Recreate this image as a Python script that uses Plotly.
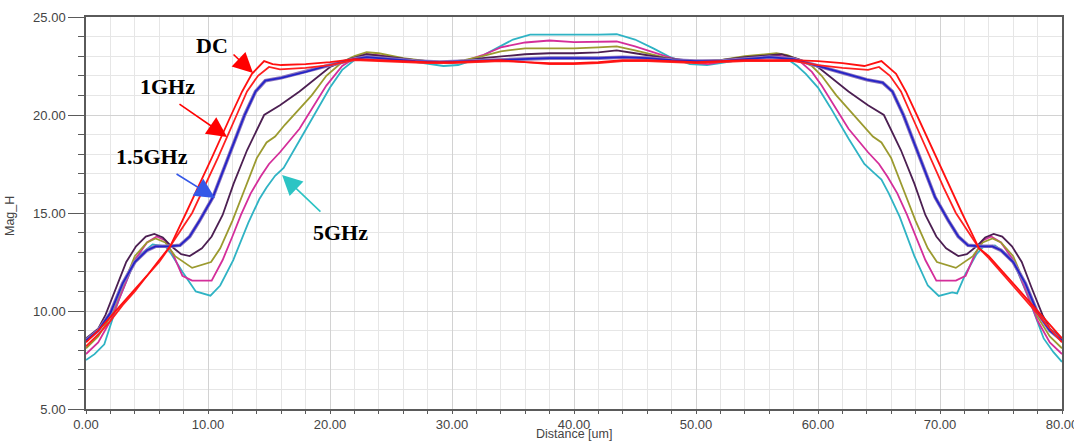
import plotly.graph_objects as go

# ---- H-field magnitude profiles across the conductor (Distance in um) ----

dc_x = [0, 1, 2, 3, 4, 5, 6, 6.9, 8.2, 9.2, 10.3, 11.9, 12.8, 13.6, 14.6, 15.3, 16, 18, 20, 22,
        24, 26, 28, 30, 32, 34, 36, 38, 40, 42, 44, 46, 48, 50, 52, 54, 56, 58, 60, 62,
        63.8, 65.2, 66.4, 67.2, 68.1, 69.7, 70.8, 71.8, 73.2, 74, 75, 76, 77, 78, 79, 80]
dc_y = [8.4, 9.0, 9.7, 10.4, 11.1, 11.8, 12.6, 13.3, 15.0, 16.3, 17.8, 20.0, 21.2, 22.1, 22.75, 22.6, 22.55, 22.6, 22.7, 22.85,
        22.8, 22.75, 22.7, 22.7, 22.75, 22.8, 22.7, 22.65, 22.65, 22.7, 22.8, 22.8, 22.75, 22.7, 22.75, 22.8, 22.8, 22.8, 22.75, 22.65,
        22.5, 22.75, 22.1, 21.2, 20.0, 17.8, 16.3, 15.0, 13.2, 12.8, 12.1, 11.4, 10.7, 10.0, 9.3, 8.6]

f1_x = [0, 1, 2, 3, 4, 5, 6, 6.9, 8.7, 9.7, 10.8, 12.35, 13.2, 14.1, 15.0, 15.9, 18, 20, 22, 24,
        26, 28, 30, 32, 34, 36, 38, 40, 42, 44, 46, 48, 50, 52, 54, 56, 58, 60, 62, 64.1,
        65.0, 65.9, 66.8, 67.65, 69.2, 70.3, 71.3, 73.2, 74, 75, 76, 77, 78, 79, 80]
f1_y = [8.2, 8.8, 9.5, 10.3, 11.0, 11.8, 12.5, 13.3, 15.0, 16.3, 17.8, 20.0, 21.2, 22.0, 22.45, 22.33, 22.4, 22.55, 22.8, 22.75,
        22.7, 22.65, 22.65, 22.7, 22.75, 22.7, 22.6, 22.6, 22.65, 22.75, 22.75, 22.7, 22.65, 22.7, 22.75, 22.75, 22.75, 22.55, 22.4, 22.3,
        22.45, 22.0, 21.2, 20.0, 17.8, 16.3, 15.0, 13.2, 12.7, 12.0, 11.25, 10.55, 9.85, 9.1, 8.4]

f15_x = [0, 1, 2, 3, 4, 5, 5.7, 6.8, 7.7, 8.5, 9.3, 10.4, 11.7, 13.0, 13.9, 14.7, 16, 18, 19.7, 22,
         23, 25, 27, 29, 31, 33, 35, 38, 40, 42, 44, 46, 48, 50, 52, 54, 56, 58, 60, 62,
         64, 65.3, 66.1, 67.0, 68.3, 69.6, 70.7, 71.5, 72.3, 73.3, 74.3, 75, 76, 77, 78, 79, 80]
f15_y = [8.5, 9.0, 9.9, 11.4, 12.5, 13.1, 13.3, 13.3, 13.35, 13.8, 14.6, 15.8, 17.9, 20.0, 21.2, 21.75, 21.9, 22.2, 22.5, 22.85,
         22.95, 22.85, 22.75, 22.7, 22.75, 22.8, 22.85, 22.9, 22.9, 22.9, 22.95, 22.9, 22.8, 22.75, 22.75, 22.85, 22.95, 22.85, 22.5, 22.15,
         21.8, 21.65, 21.2, 20.0, 17.9, 15.8, 14.6, 13.8, 13.35, 13.3, 13.3, 13.1, 12.5, 11.4, 9.9, 9.0, 8.5]

f2_x = [0, 1, 1.6, 2.5, 3.3, 4.1, 4.9, 5.6, 6.3, 7.0, 7.8, 8.5, 9.5, 10.3, 11.2, 12.1, 13.2, 14.6, 15.9, 17.5,
        20, 21.6, 23, 25, 27, 29, 31, 32.5, 34, 36, 38, 40, 42, 43.5, 45, 47.5, 50, 52, 54, 56,
        57, 58.4, 60, 62.5, 64.1, 65.4, 66.8, 67.9, 68.8, 69.7, 70.5, 71.5, 72.2, 73.0, 73.7, 74.4, 75.1, 75.9, 76.7, 77.5,
        78.4, 79, 80]
f2_y = [8.6, 9.1, 9.8, 11.2, 12.5, 13.3, 13.8, 13.93, 13.75, 13.3, 12.9, 12.8, 13.2, 13.8, 14.9, 16.5, 18.2, 20.0, 20.5, 21.2,
        22.45, 22.85, 23.1, 22.95, 22.8, 22.7, 22.75, 22.9, 23.0, 23.1, 23.15, 23.15, 23.2, 23.3, 23.15, 22.9, 22.75, 22.8, 22.95, 23.05,
        23.1, 22.85, 22.45, 21.2, 20.5, 20.0, 18.2, 16.5, 14.9, 13.8, 13.2, 12.8, 12.9, 13.3, 13.75, 13.93, 13.8, 13.3, 12.5, 11.2,
        9.8, 9.1, 8.6]

f3_x = [0, 1, 2, 3, 4, 5, 5.7, 6.5, 7.3, 8.7, 10.25, 11.0, 12.0, 13.0, 14.0, 14.8, 15.5, 16.3, 17.5, 18.5,
        19.7, 21, 22, 23, 24, 26, 28, 29.5, 31, 32.5, 34, 36, 38, 40, 42, 43.5, 45, 47, 48, 50,
        52, 54, 56.6, 57.5, 58.5, 59.5, 60.3, 61.5, 62.5, 63.7, 64.5, 65.2, 66.0, 67.0, 68.0, 69.0, 69.75, 71.3, 72.7, 73.5,
        74.3, 75, 76, 77, 78, 79, 80]
f3_y = [8.1, 8.7, 9.7, 11.3, 12.8, 13.5, 13.7, 13.5, 12.8, 12.2, 12.5, 13.2, 14.6, 16.2, 17.8, 18.6, 18.9, 19.5, 20.3, 21.0,
        22.0, 22.7, 23.0, 23.2, 23.15, 22.9, 22.75, 22.7, 22.8, 23.0, 23.25, 23.4, 23.4, 23.4, 23.45, 23.5, 23.3, 23.0, 22.85, 22.7,
        22.8, 23.0, 23.15, 23.05, 22.8, 22.5, 22.0, 21.0, 20.3, 19.5, 18.9, 18.6, 17.8, 16.2, 14.6, 13.2, 12.5, 12.2, 12.8, 13.5,
        13.7, 13.5, 12.8, 11.3, 9.7, 8.7, 8.1]

f4_x = [0, 1, 2, 3, 4, 5, 5.8, 6.5, 7.2, 7.9, 8.7, 10.3, 11.2, 12.0, 12.7, 13.5, 14.3, 15.0, 15.9, 17.5,
        18.5, 19.7, 21, 22, 23, 24, 26, 28, 29.5, 31, 32.5, 34, 36, 38, 40, 42, 43.5, 45, 46.5, 48,
        50, 51, 52, 54, 56.5, 57.5, 58.5, 59.5, 60.3, 61.5, 62.5, 64.1, 65.0, 65.7, 66.5, 67.3, 68.0, 68.8, 69.7, 71.3,
        72.1, 72.8, 73.5, 74.2, 75, 76, 77, 78, 79, 80]
f4_y = [7.8, 8.4, 9.5, 11.1, 12.6, 13.5, 13.8, 13.6, 12.8, 11.8, 11.55, 11.55, 12.6, 13.8, 14.9, 16.0, 16.85, 17.5, 18.1, 19.3,
        20.3, 21.5, 22.5, 22.9, 23.1, 23.05, 22.85, 22.7, 22.65, 22.75, 23.05, 23.45, 23.7, 23.8, 23.72, 23.75, 23.75, 23.5, 23.2, 22.9,
        22.65, 22.6, 22.7, 22.9, 23.05, 22.95, 22.75, 22.2, 21.5, 20.3, 19.3, 18.1, 17.5, 16.85, 16.0, 14.9, 13.8, 12.6, 11.55, 11.55,
        11.8, 12.8, 13.6, 13.8, 13.5, 12.6, 11.1, 9.5, 8.4, 7.8]

f5_x = [0, 0.7, 1.5, 2.7, 4.1, 5.46, 6.5, 7.0, 7.9, 9.0, 10.2, 11.0, 12.07, 13.3, 14.2, 14.8, 15.5, 16.2, 17.5, 19,
        20, 21, 22, 23, 24, 26, 28, 29.3, 30.5, 31.5, 32.6, 34, 35, 36.4, 38, 40, 42, 43.5, 45, 46.5,
        47.9, 49.5, 50.9, 52, 54, 56.5, 57.5, 58.3, 59, 60, 61, 62.5, 63.8, 64.5, 65.2, 65.8, 66.7, 67.9, 69.0, 69.9,
        71.0, 71.4, 72.1, 73.0, 73.5, 74.5, 75.9, 77.3, 78.5, 79.3, 80]
f5_y = [7.5, 7.8, 8.3, 10.6, 12.7, 13.4, 13.3, 12.9, 12.0, 11.0, 10.78, 11.3, 12.6, 14.5, 15.7, 16.3, 16.9, 17.3, 18.7, 20.3,
        21.4, 22.3, 22.8, 23.0, 22.95, 22.8, 22.6, 22.5, 22.55, 22.75, 23.06, 23.5, 23.85, 24.1, 24.1, 24.08, 24.1, 24.12, 23.85, 23.4,
        22.95, 22.6, 22.55, 22.65, 22.85, 23.0, 22.85, 22.5, 22.1, 21.4, 20.4, 18.8, 17.5, 17.1, 16.7, 16.0, 14.8, 12.8, 11.3, 10.77,
        10.95, 10.9, 11.9, 12.9, 13.25, 13.35, 12.7, 10.6, 8.6, 7.9, 7.4]

series = [
    # name, x, y, colour, width
    ("5GHz", f5_x, f5_y, "#2fb3c4", 1.8),
    ("4GHz", f4_x, f4_y, "#d42e9a", 1.8),
    ("3GHz", f3_x, f3_y, "#9b9a2f", 1.8),
    ("2GHz", f2_x, f2_y, "#4c1f52", 1.8),
    ("1.5GHz", f15_x, f15_y, "#2424c8", 1.8),
    ("1GHz", f1_x, f1_y, "#ff2020", 1.8),
    ("DC", dc_x, dc_y, "#ff1010", 1.8),
]

fig = go.Figure()
for name, xs, ys, colour, width in series:
    assert len(xs) == len(ys), name
    if name == "1.5GHz":
        # purple halo under the 1.5GHz trace
        fig.add_trace(go.Scatter(x=xs, y=ys, mode="lines", name=name + " halo",
                                 line=dict(color="#8e76bd", width=3.6), hoverinfo="skip"))
    fig.add_trace(go.Scatter(x=xs, y=ys, mode="lines", name=name,
                             line=dict(color=colour, width=width)))

axis_font = dict(family="Arial, Liberation Sans, sans-serif", size=13, color="#444444")
title_font = dict(family="Arial, Liberation Sans, sans-serif", size=12.5, color="#444444")
label_font = dict(family="Liberation Serif, Times New Roman, serif", size=22, color="#000000")

# labels with arrows pointing at the curves: (text, text_x, text_y, tail_x, tail_y, head_x, head_y, colour)
callouts = [
    ("DC", 10.33, 23.57, 11.97, 23.16, 13.69, 22.14, "#ff0000"),
    ("1GHz", 6.72, 21.43, 7.54, 20.61, 11.56, 18.88, "#ff0000"),
    ("1.5GHz", 5.41, 17.86, 7.30, 17.04, 10.57, 15.77, "#3558e8"),
    ("5GHz", 20.82, 13.98, 19.34, 15.00, 16.07, 16.94, "#2cc4c4"),
]

annotations = []
for text, tx, ty, ax0, ay0, hx, hy, colour in callouts:
    annotations.append(dict(x=hx, y=hy, ax=ax0, ay=ay0, xref="x", yref="y", axref="x", ayref="y",
                            text="", showarrow=True, arrowhead=2, arrowsize=2.5, arrowwidth=1.6,
                            arrowcolor=colour, standoff=0, startstandoff=0))
    annotations.append(dict(x=tx, y=ty, xref="x", yref="y", text="<b>" + text + "</b>",
                            showarrow=False, font=label_font, xanchor="center", yanchor="middle"))

annotations.append(dict(x=-0.078, y=0.492, xref="paper", yref="paper", text="Mag_H", textangle=-90,
                        showarrow=False, font=title_font, xanchor="center", yanchor="middle"))
annotations.append(dict(x=0.5, y=-0.0635, xref="paper", yref="paper", text="Distance [um]",
                        showarrow=False, font=title_font, xanchor="center", yanchor="middle"))

fig.update_layout(
    width=1074, height=441,
    margin=dict(l=86, r=12, t=17, b=32, autoexpand=False),
    paper_bgcolor="white", plot_bgcolor="white",
    showlegend=False,
    annotations=annotations,
    xaxis=dict(range=[0, 80], dtick=10, tick0=0, tickformat=".2f", tickfont=axis_font,
               ticklabeloverflow="allow", automargin=False,
               showgrid=True, gridcolor="#d2d2d2", gridwidth=1.2, zeroline=False,
               showline=True, linecolor="#5a5a5a", linewidth=1.5, mirror=True,
               ticks="outside", ticklen=3, tickcolor="#5a5a5a", tickwidth=1,
               minor=dict(dtick=2, showgrid=True, gridcolor="#e6e6e6", gridwidth=1,
                          ticks="outside", ticklen=3, tickcolor="#5a5a5a")),
    yaxis=dict(range=[5, 25], dtick=5, tick0=0, tickformat=".2f", tickfont=axis_font,
               automargin=False,
               showgrid=True, gridcolor="#d2d2d2", gridwidth=1.2, zeroline=False,
               showline=True, linecolor="#5a5a5a", linewidth=1.5, mirror=True,
               ticks="outside", ticklen=16, tickcolor="#5a5a5a", tickwidth=1,
               minor=dict(dtick=1, showgrid=True, gridcolor="#e6e6e6", gridwidth=1,
                          ticks="outside", ticklen=6, tickcolor="#5a5a5a")),
)

fig.write_html("out.html")
